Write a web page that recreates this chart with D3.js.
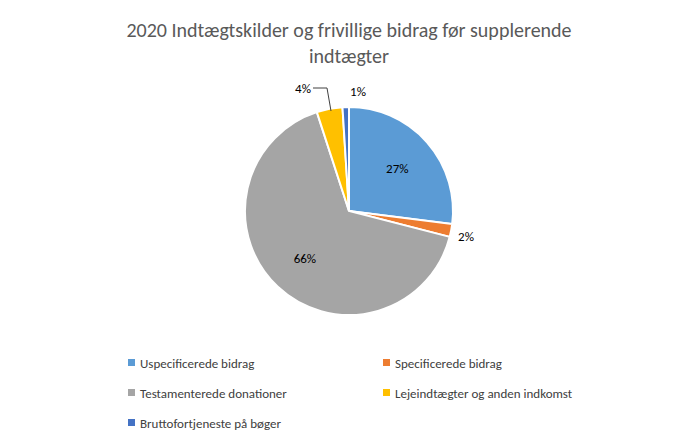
<!DOCTYPE html>
<html><head><meta charset="utf-8">
<script src="https://cdn.jsdelivr.net/npm/d3@7"></script>
<style>body{margin:0;background:#fff}text{font-family:Calibri,Carlito,"Liberation Sans",sans-serif}</style>
</head><body>
<svg id="c" width="700" height="444"></svg>
<script>
const categories = ["Uspecificerede bidrag","Specificerede bidrag","Testamenterede donationer","Lejeindtægter og anden indkomst","Bruttofortjeneste på bøger"];
const values = [27, 2, 66, 4, 1];
const colors = ["#5B9BD5","#ED7D31","#A5A5A5","#FFC000","#4472C4"];

const svg = d3.select("#c");
svg.append("rect").attr("width",700).attr("height",444).attr("fill","#fff");
const title = ["2020 Indtægtskilder og frivillige bidrag før supplerende","indtægter"];
svg.selectAll("text.t").data(title).enter().append("text")
  .attr("x",349).attr("y",(d,i)=>37+i*26).attr("text-anchor","middle")
  .attr("font-size",20).attr("fill","#595959").text(d=>d);

const cx=349, cy=211, r=104;
const g = svg.append("g").attr("transform",`translate(${cx},${cy})`);
const pie = d3.pie().sort(null).value(d=>d)(values);
const arc = d3.arc().innerRadius(0).outerRadius(r);
g.selectAll("path").data(pie).enter().append("path").attr("d",arc)
  .attr("fill",(d,i)=>colors[i]).attr("stroke","#fff").attr("stroke-width",2);

const fmt = v=>v+"%";
const labelPos = [[0.62,"in"],[1.17,"out"],[0.62,"in"],[1.25,"out"],[1.2,"out"]];
pie.forEach((d,i)=>{
  const a=(d.startAngle+d.endAngle)/2;
  let k=labelPos[i][0];
  let x=Math.sin(a)*r*k, y=-Math.cos(a)*r*k;
  if(i===3){ x=-46; y=-123;
    g.append("polyline").attr("points",`${x+10},${y} ${-22},${y} ${-18},${-100}`)
     .attr("fill","none").attr("stroke","#404040").attr("stroke-width",1);
  }
  if(i===4){ x=9; y=-120; }
  if(i===1){ x=117; y=25; }
  g.append("text").attr("x",x).attr("y",y).attr("dy","0.35em").attr("text-anchor","middle")
   .attr("font-size",13).attr("fill","#000").text(fmt(values[i]));
});

const legPos=[[128,363],[383,363],[128,393],[383,393],[128,423]];
categories.forEach((c,i)=>{
  const [x,y]=legPos[i];
  svg.append("rect").attr("x",x).attr("y",y-4).attr("width",7).attr("height",7).attr("fill",colors[i]);
  svg.append("text").attr("x",x+12).attr("y",y).attr("dy","0.35em").attr("font-size",13).attr("fill","#404040").text(c);
});
</script>
</body></html>
